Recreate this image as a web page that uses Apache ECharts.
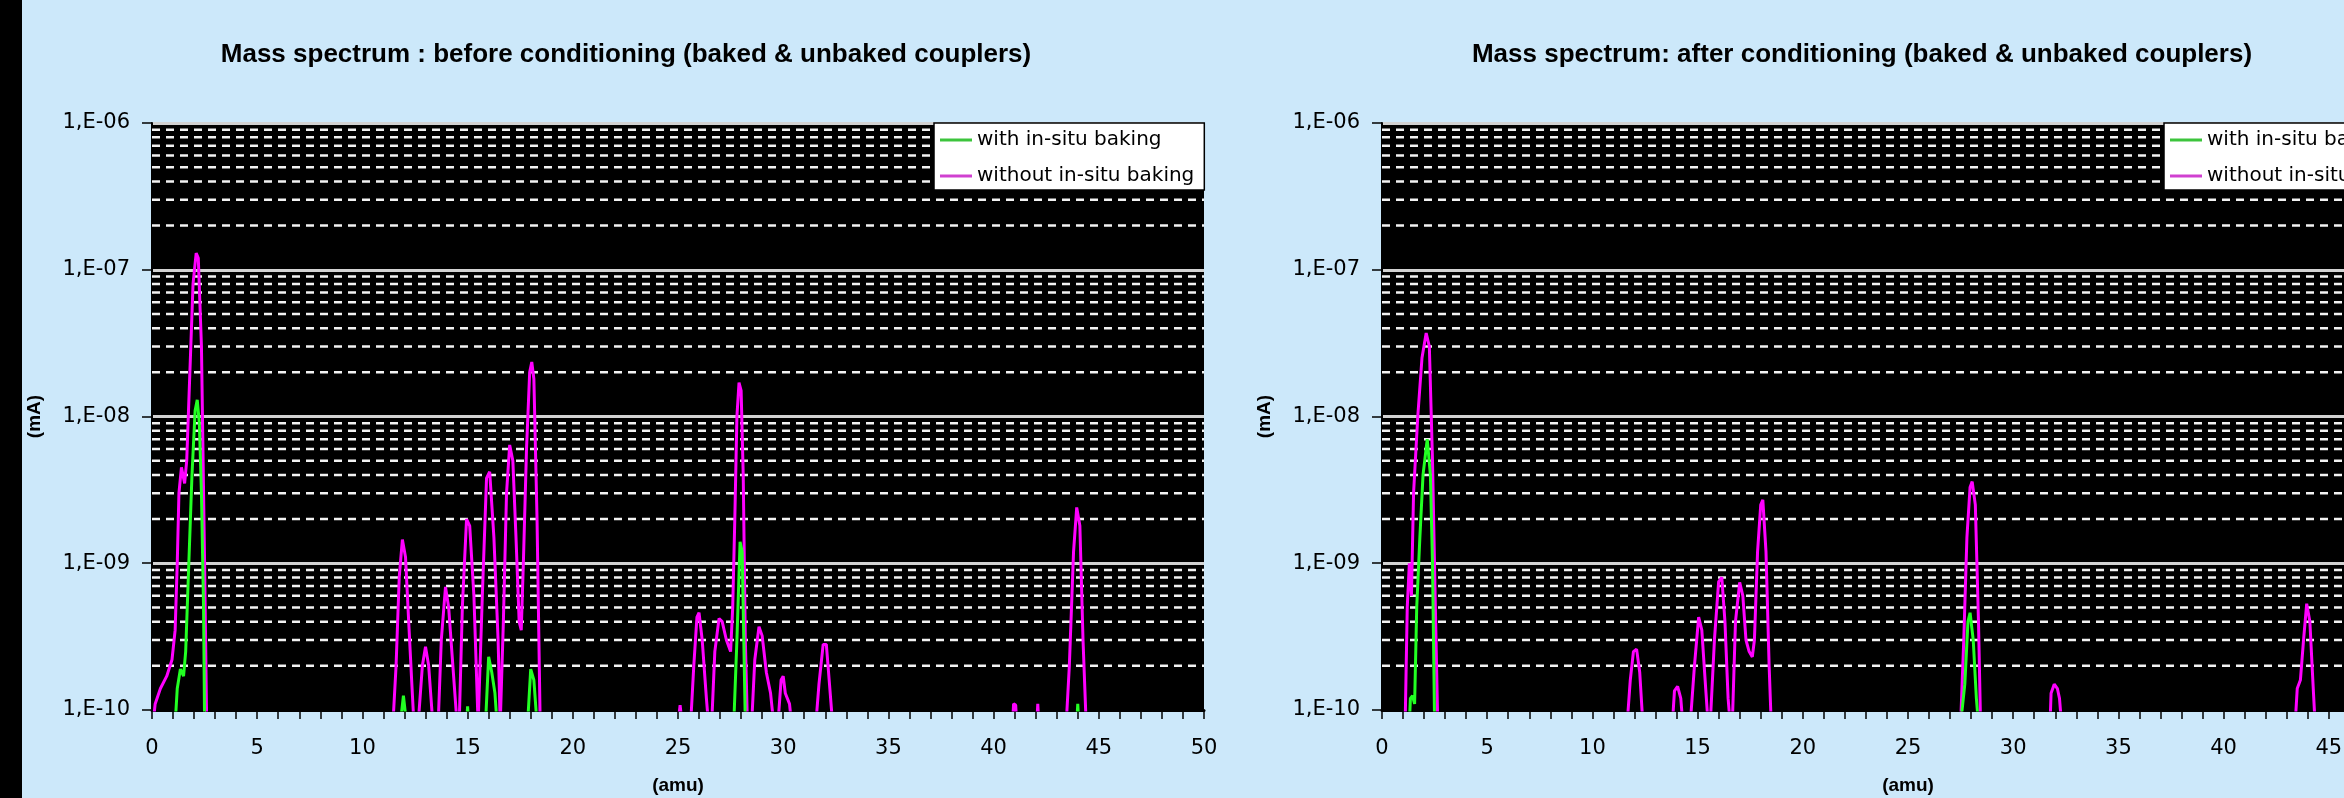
<!DOCTYPE html>
<html>
<head>
<meta charset="utf-8">
<title>Mass spectrum</title>
<script src="https://cdn.jsdelivr.net/npm/echarts@6/dist/echarts.min.js"></script>
<style>
  html, body { margin: 0; padding: 0; background: #cce8fa; }
  #main { width: 2344px; height: 798px; }
</style>
</head>
<body>
<div id="main"></div>
<script>
// titles / names
var chartTitles = [
  'Mass spectrum : before conditioning (baked & unbaked couplers)',
  'Mass spectrum: after conditioning (baked & unbaked couplers)'
];
var seriesNames = ['with in-situ baking', 'without in-situ baking'];

// y ticks (log) and their labels
var yTickValues = [1e-10, 1e-9, 1e-8, 1e-7, 1e-6];
var yTickLabels = ['1,E-10', '1,E-09', '1,E-08', '1,E-07', '1,E-06'];
// dashed minor grid lines (2..9 x each decade)
var minorGridValues = [
  2e-10, 3e-10, 4e-10, 5e-10, 6e-10, 7e-10, 8e-10, 9e-10,
  2e-9, 3e-9, 4e-9, 5e-9, 6e-9, 7e-9, 8e-9, 9e-9,
  2e-8, 3e-8, 4e-8, 5e-8, 6e-8, 7e-8, 8e-8, 9e-8,
  2e-7, 3e-7, 4e-7, 5e-7, 6e-7, 7e-7, 8e-7, 9e-7
];
var xRange = [0, 50];

// before conditioning, with in-situ baking  [amu, mA]
var beforeWith = [
  [1.1, 8e-11], [1.2, 1.4e-10], [1.35, 1.9e-10], [1.5, 1.7e-10], [1.6, 2.5e-10], [1.75, 1e-9],
  [1.9, 4e-9], [2.05, 1.1e-8], [2.15, 1.3e-8], [2.25, 9e-9], [2.35, 3e-9], [2.45, 5e-10], [2.5, 8e-11],
  [11.8, 8e-11], [11.95, 1.25e-10], [12.1, 8e-11],
  [14.95, 8e-11], [15.0, 1.06e-10], [15.05, 8e-11],
  [15.85, 8e-11], [16.0, 2.3e-10], [16.15, 1.8e-10], [16.3, 1.3e-10], [16.4, 8e-11],
  [17.85, 8e-11], [18.0, 1.9e-10], [18.15, 1.6e-10], [18.3, 8e-11],
  [27.65, 8e-11], [27.8, 3e-10], [27.95, 1.4e-9], [28.05, 1.2e-9], [28.2, 8e-11],
  [43.95, 8e-11], [44.0, 1.1e-10], [44.05, 8e-11]
];

// before conditioning, without in-situ baking
var beforeWithout = [
  [0.05, 8e-11], [0.15, 1.1e-10], [0.4, 1.4e-10], [0.7, 1.7e-10], [0.95, 2.2e-10], [1.1, 3.5e-10],
  [1.2, 1e-9], [1.28, 3e-9], [1.4, 4.5e-9], [1.55, 3.5e-9], [1.65, 5e-9], [1.8, 2e-8], [1.95, 8e-8],
  [2.1, 1.3e-7], [2.2, 1.2e-7], [2.35, 3e-8], [2.5, 1e-9], [2.6, 8e-11],
  [11.45, 8e-11], [11.6, 2e-10], [11.75, 8e-10], [11.9, 1.45e-9], [12.05, 1.1e-9], [12.2, 4e-10], [12.35, 1.5e-10], [12.45, 8e-11],
  [12.65, 8e-11], [12.85, 2e-10], [13.0, 2.7e-10], [13.15, 2e-10], [13.35, 8e-11],
  [13.6, 8e-11], [13.75, 3e-10], [13.95, 6.9e-10], [14.1, 5e-10], [14.3, 2e-10], [14.5, 8e-11],
  [14.6, 8e-11], [14.75, 5e-10], [14.95, 2e-9], [15.1, 1.8e-9], [15.3, 6e-10], [15.5, 8e-11],
  [15.55, 8e-11], [15.7, 6e-10], [15.9, 3.8e-9], [16.05, 4.2e-9], [16.25, 1.5e-9], [16.45, 3e-10], [16.55, 8e-11],
  [16.6, 8e-11], [16.7, 4e-10], [16.85, 3e-9], [17.0, 6.4e-9], [17.15, 5e-9], [17.3, 1.5e-9], [17.45, 4e-10], [17.55, 3.5e-10],
  [17.65, 1e-9], [17.8, 6e-9], [17.95, 2e-8], [18.05, 2.35e-8], [18.15, 1.8e-8], [18.3, 2e-9], [18.45, 8e-11],
  [25.0, 8e-11], [25.1, 1.08e-10], [25.2, 8e-11],
  [25.6, 8e-11], [25.75, 2e-10], [25.9, 4.3e-10], [26.0, 4.6e-10], [26.15, 3e-10], [26.35, 1.2e-10], [26.45, 8e-11],
  [26.6, 8e-11], [26.75, 2.5e-10], [26.95, 4.2e-10], [27.1, 4e-10], [27.3, 3e-10], [27.5, 2.5e-10],
  [27.6, 5e-10], [27.7, 2e-9], [27.8, 1e-8], [27.9, 1.7e-8], [28.0, 1.5e-8], [28.1, 4e-9], [28.2, 3e-10], [28.3, 8e-11],
  [28.5, 8e-11], [28.65, 2.2e-10], [28.85, 3.7e-10], [29.0, 3.2e-10], [29.2, 1.8e-10], [29.4, 1.3e-10], [29.55, 8e-11],
  [29.75, 8e-11], [29.9, 1.6e-10], [30.0, 1.7e-10], [30.1, 1.3e-10], [30.3, 1.1e-10], [30.4, 8e-11],
  [31.55, 8e-11], [31.7, 1.5e-10], [31.9, 2.8e-10], [32.05, 2.8e-10], [32.2, 1.5e-10], [32.35, 8e-11],
  [40.9, 8e-11], [40.95, 1.1e-10], [41.05, 1.08e-10], [41.1, 8e-11],
  [42.05, 8e-11], [42.1, 1.1e-10], [42.15, 8e-11],
  [43.45, 8e-11], [43.6, 2e-10], [43.8, 1.2e-9], [43.95, 2.4e-9], [44.1, 1.8e-9], [44.25, 3e-10], [44.4, 8e-11]
];

// after conditioning, with in-situ baking
var afterWith = [
  [1.3, 8e-11], [1.35, 1.2e-10], [1.45, 1.25e-10], [1.55, 1.1e-10], [1.65, 5e-10], [1.8, 1.5e-9],
  [1.95, 4e-9], [2.15, 7e-9], [2.3, 4e-9], [2.4, 1e-9], [2.5, 8e-11],
  [27.5, 8e-11], [27.7, 1.5e-10], [27.85, 4e-10], [27.95, 4.6e-10], [28.1, 3e-10], [28.25, 1.2e-10], [28.35, 8e-11]
];

// after conditioning, without in-situ baking
var afterWithout = [
  [1.1, 8e-11], [1.2, 5e-10], [1.3, 1e-9], [1.4, 6e-10], [1.5, 3e-9], [1.7, 1e-8], [1.9, 2.5e-8],
  [2.1, 3.7e-8], [2.25, 3e-8], [2.4, 5e-9], [2.55, 4e-10], [2.65, 8e-11],
  [11.65, 8e-11], [11.8, 1.6e-10], [11.95, 2.5e-10], [12.1, 2.6e-10], [12.25, 1.8e-10], [12.4, 8e-11],
  [13.8, 8e-11], [13.9, 1.35e-10], [14.05, 1.45e-10], [14.2, 1.2e-10], [14.3, 8e-11],
  [14.65, 8e-11], [14.85, 2e-10], [15.05, 4.3e-10], [15.2, 3.5e-10], [15.4, 1.3e-10], [15.5, 8e-11],
  [15.6, 8e-11], [15.8, 3e-10], [16.0, 7.5e-10], [16.15, 8e-10], [16.3, 4e-10], [16.45, 1.2e-10], [16.55, 8e-11],
  [16.65, 8e-11], [16.8, 4e-10], [17.0, 7.4e-10], [17.15, 6e-10], [17.3, 3e-10], [17.45, 2.5e-10],
  [17.6, 2.3e-10], [17.7, 3e-10], [17.85, 1.2e-9], [18.0, 2.5e-9], [18.1, 2.7e-9], [18.25, 1.2e-9], [18.4, 2e-10], [18.5, 8e-11],
  [27.5, 8e-11], [27.65, 3e-10], [27.8, 1.5e-9], [27.95, 3.3e-9], [28.05, 3.6e-9], [28.2, 2.5e-9], [28.35, 4e-10], [28.45, 8e-11],
  [31.75, 8e-11], [31.8, 1.3e-10], [31.95, 1.5e-10], [32.1, 1.4e-10], [32.2, 1.2e-10], [32.3, 8e-11],
  [43.4, 8e-11], [43.5, 1.4e-10], [43.65, 1.6e-10], [43.8, 3e-10], [43.95, 5.3e-10], [44.1, 4e-10], [44.25, 1.5e-10], [44.35, 8e-11]
];

var FONT = '"DejaVu Sans", sans-serif';
var gridLefts = [152, 1382];
var titleCenters = [626, 1862];
var legendLefts = [934, 2164];
var seriesSets = [[beforeWith, beforeWithout], [afterWith, afterWithout]];

var chart = echarts.init(document.getElementById('main'));

function yLabel(v) {
  for (var k = 0; k < yTickValues.length; k++) {
    if (Math.abs(Math.log10(v) - Math.log10(yTickValues[k])) < 1e-6) return yTickLabels[k];
  }
  return '';
}

// horizontal dashed lines across the x range, broken between levels
var minorGridData = [];
minorGridValues.forEach(function (v) {
  minorGridData.push([xRange[0], v], [xRange[1], v], [xRange[1], '-']);
});

var grids = [], xAxes = [], yAxes = [], series = [], legends = [], graphics = [];

graphics.push({ type: 'rect', shape: { x: 0, y: 0, width: 22, height: 798 }, style: { fill: '#000' } });

[0, 1].forEach(function (i) {
  grids.push({
    left: gridLefts[i], top: 123, width: 1052, height: 587,
    outerBoundsMode: 'none',
    show: true, backgroundColor: '#000', borderWidth: 0
  });
  xAxes.push({
    gridIndex: i, type: 'value', min: xRange[0], max: xRange[1], interval: 5,
    name: '(amu)', nameLocation: 'middle', nameGap: 66,
    nameTextStyle: { fontFamily: '"Liberation Sans", sans-serif', fontWeight: 'bold', fontSize: 19, color: '#000' },
    axisLine: { lineStyle: { color: '#000', width: 3 } },
    axisTick: { length: 9, lineStyle: { color: '#000', width: 1.5 } },
    minorTick: { show: true, splitNumber: 5, length: 9, lineStyle: { color: '#000', width: 1.5 } },
    axisLabel: { margin: 28, fontSize: 21, fontFamily: FONT, color: '#000' },
    splitLine: { show: false }
  });
  yAxes.push({
    gridIndex: i, type: 'log', logBase: 10, min: 1e-10, max: 1e-6, splitNumber: 4,
    name: '(mA)', nameLocation: 'middle', nameGap: 108, nameRotate: 90,
    nameTextStyle: { fontFamily: '"Liberation Sans", sans-serif', fontWeight: 'bold', fontSize: 19, color: '#000' },
    axisLine: { show: true, lineStyle: { color: '#000', width: 2 } },
    axisTick: { show: true, length: 10, lineStyle: { color: '#000', width: 1.5 } },
    axisLabel: { margin: 22, fontSize: 21, fontFamily: FONT, color: '#000', formatter: yLabel },
    splitLine: { show: true, lineStyle: { color: '#d2d2d2', width: 3 } }
  });
  series.push({
    type: 'line', xAxisIndex: i, yAxisIndex: i, data: minorGridData,
    silent: true, showSymbol: false, connectNulls: false, z: 1,
    tooltip: { show: false }, emphasis: { disabled: true },
    lineStyle: { color: '#f2f2f2', type: [8, 6], width: 2.5 }
  });
  series.push({
    name: seriesNames[1], type: 'line', xAxisIndex: i, yAxisIndex: i,
    data: seriesSets[i][1], showSymbol: false, clip: true, z: 3,
    lineStyle: { color: '#ff00ff', width: 3 }, itemStyle: { color: '#d040d0' }
  });
  series.push({
    name: seriesNames[0], type: 'line', xAxisIndex: i, yAxisIndex: i,
    data: seriesSets[i][0], showSymbol: false, clip: true, z: 4,
    lineStyle: { color: '#22ff22', width: 3 }, itemStyle: { color: '#3cc43c' }
  });
  legends.push({
    orient: 'vertical', left: legendLefts[i], top: 123,
    backgroundColor: '#fff', borderColor: '#000', borderWidth: 1.5, borderRadius: 0,
    padding: [7, 10, 4, 6], itemGap: 16, itemWidth: 32, itemHeight: 3, icon: 'rect',
    textStyle: { fontFamily: FONT, fontSize: 20, color: '#000', lineHeight: 20 },
    data: seriesNames
  });
  graphics.push({
    type: 'text', x: titleCenters[i], y: 55,
    style: {
      text: chartTitles[i], fill: '#000',
      font: 'bold 26px "Liberation Sans Narrow", "Liberation Sans", sans-serif',
      textAlign: 'center', textVerticalAlign: 'middle'
    }
  });
});

chart.setOption({
  animation: false,
  backgroundColor: '#cce8fa',
  grid: grids,
  xAxis: xAxes,
  yAxis: yAxes,
  legend: legends,
  graphic: graphics,
  series: series
});
</script>
</body>
</html>
